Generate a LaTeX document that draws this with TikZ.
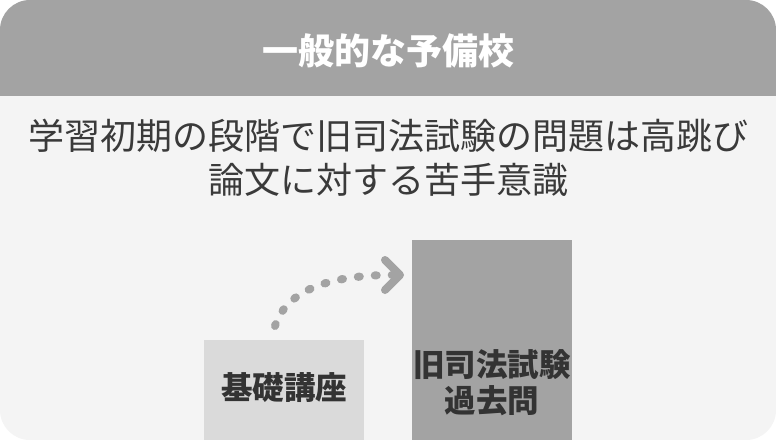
\documentclass[tikz,border=0pt]{standalone}
\usepackage{fontspec}
\setmainfont{Noto Sans CJK JP}
\usetikzlibrary{calc}
\definecolor{hdr}{HTML}{A3A3A3}
\definecolor{bodybg}{HTML}{F4F4F4}
\definecolor{boxlight}{HTML}{DADADA}
\definecolor{boxdark}{HTML}{A3A3A3}
\definecolor{txt}{HTML}{3A3A3A}
\definecolor{boxtxt}{HTML}{333333}
\begin{document}
\begin{tikzpicture}[x=1pt,y=-1pt,
  titletext/.style={font=\fontsize{36}{42}\selectfont\bfseries, text=white, inner sep=0pt},
  bodytext/.style={font=\fontsize{36}{42}\selectfont, text=txt, inner sep=0pt},
  boxlabel/.style={font=\fontsize{31.5}{36}\selectfont\bfseries, text=boxtxt, inner sep=0pt, align=center},
  bar/.style={draw=none, inner sep=0pt, anchor=north west},
  flow/.style={draw=hdr, line width=8pt, line cap=round, dash pattern=on 2pt off 15pt},
  chev/.style={draw=hdr, line width=8pt, line cap=round, line join=round}]
\useasboundingbox (0,0) rectangle (776,440);
\fill[white] (0,0) rectangle (776,440);
\begin{scope}
  \clip[rounded corners=30pt] (0,0) rectangle (776,440);
  \fill[bodybg] (0,0) rectangle (776,440);
  \fill[hdr] (0,0) rectangle (776,96);
  \fill[boxlight] (204,340) rectangle (364,440);
  \fill[boxdark] (412,240) rectangle (572,440);
\end{scope}
\node[titletext] (title) at (388,51) {一般的な予備校};
\node[bodytext] (line1) at (388,136) {学習初期の段階で旧司法試験の問題は高跳び};
\node[bodytext] (line2) at (388,180) {論文に対する苦手意識};
\node[bar, minimum width=160pt, minimum height=100pt] (basic) at (204,340) {};
\node[bar, minimum width=160pt, minimum height=200pt] (past) at (412,240) {};
\node[boxlabel] (basiclbl) at (284,388) {基礎講座};
\node[boxlabel] (pastlbl) at (492,383) {旧司法試験\\過去問};
\coordinate (a) at (275,326);
\coordinate (b) at (399,275);
\draw[flow] (a) .. controls (285,295) and (320,274) .. (b);
\draw[chev] ($(b)+(-14,-15)$) -- ($(b)+(1,0)$) -- ($(b)+(-14,15)$);
\end{tikzpicture}
\end{document}
